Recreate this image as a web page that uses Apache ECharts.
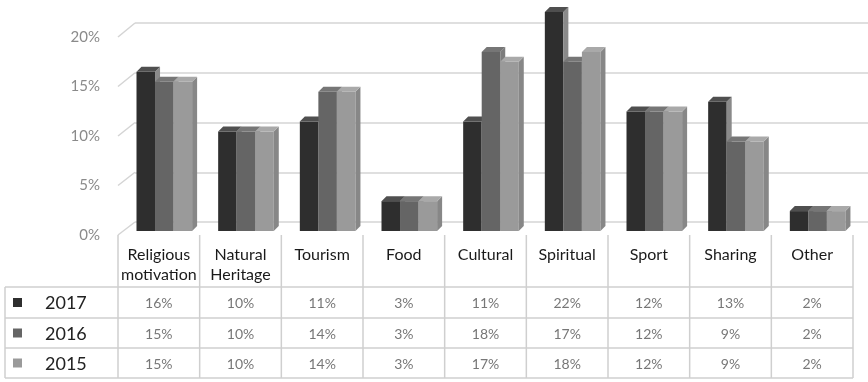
<!DOCTYPE html>
<html>
<head>
<meta charset="utf-8">
<script src="https://cdn.jsdelivr.net/npm/echarts@6/dist/echarts.min.js"></script>
<style>
  html, body { margin: 0; padding: 0; background: #ffffff; }
  #chart { width: 868px; height: 382px; }
</style>
</head>
<body>
<div id="chart"></div>
<script>
// Motivation categories and yearly shares (%)
const categories = ['Religious\nmotivation', 'Natural\nHeritage', 'Tourism', 'Food', 'Cultural', 'Spiritual', 'Sport', 'Sharing', 'Other'];
const years = ['2017', '2016', '2015'];
const values2017 = [16, 10, 11, 3, 11, 22, 12, 13, 2];
const values2016 = [15, 10, 14, 3, 18, 17, 12, 9, 2];
const values2015 = [15, 10, 14, 3, 17, 18, 12, 9, 2];
const yMin = 0, yMax = 20, yStep = 5;

const seriesValues = [values2017, values2016, values2015];
// front / side / top shades of the pseudo-3D columns
const palettes = [
  { front: '#2e2e2e', side: '#8a8a8a', top: '#4f4f4f' },
  { front: '#656565', side: '#7c7c7c', top: '#767676' },
  { front: '#9a9a9a', side: '#878787', top: '#a9a9a9' }
];
const FONT = 'Lato, "Open Sans", sans-serif';
const GRID_LINE = '#d4d4d4';

const chart = echarts.init(document.getElementById('chart'), null, { renderer: 'canvas' });

function columnRenderer(k, pal) {
  return function (params, api) {
    const ci = api.value(0);
    const v = api.value(1);
    const base = api.coord([ci, 0]);
    const top = api.coord([ci, v]);
    const catW = api.size([1, 0])[0];
    const bw = catW * 0.227;
    const shift = catW * 0.067;
    const dx = 5, dy = 5;
    const x0 = base[0] - 1.5 * bw + k * bw + shift;
    const x1 = x0 + bw;
    const yb = base[1], yt = top[1];
    return {
      type: 'group',
      children: [
        { type: 'rect', shape: { x: x0, y: yt, width: bw, height: yb - yt }, style: { fill: pal.front } },
        { type: 'polygon', shape: { points: [[x1, yb], [x1, yt], [x1 + dx, yt - dy], [x1 + dx, yb - dy]] }, style: { fill: pal.side } },
        { type: 'polygon', shape: { points: [[x0, yt], [x1, yt], [x1 + dx, yt - dy], [x0 + dx, yt - dy]] }, style: { fill: pal.top } }
      ]
    };
  };
}

const option = {
  backgroundColor: '#ffffff',
  animation: false,
  grid: [
    // column plane
    { left: 118, right: 15, top: 32, bottom: 151 },
    // back wall, offset up and to the right
    { left: 135, right: -2, top: 23, bottom: 160 },
    // front edge plane, carries the tick labels
    { left: 118, right: 15, top: 37, bottom: 147 }
  ],
  xAxis: [
    { type: 'category', gridIndex: 0, data: categories, show: false },
    { type: 'category', gridIndex: 1, data: categories, show: false },
    { type: 'category', gridIndex: 2, data: categories, show: false }
  ],
  yAxis: [
    {
      type: 'value', gridIndex: 0, min: yMin, max: yMax, interval: yStep, show: false
    },
    {
      type: 'value', gridIndex: 1, min: yMin, max: yMax, interval: yStep,
      axisLine: { show: false }, axisTick: { show: false }, axisLabel: { show: false },
      splitLine: { show: true, lineStyle: { color: GRID_LINE, width: 1.5 } }
    },
    {
      type: 'value', gridIndex: 2, min: yMin, max: yMax, interval: yStep,
      axisLine: { show: false }, axisTick: { show: false }, splitLine: { show: false },
      axisLabel: { formatter: '{value}%', color: '#8a8a8a', fontSize: 15, fontFamily: FONT, margin: 18 }
    }
  ],
  series: seriesValues.map((vals, k) => ({
    type: 'custom',
    name: years[k],
    xAxisIndex: 0,
    yAxisIndex: 0,
    clip: false,
    renderItem: columnRenderer(k, palettes[k]),
    encode: { x: 0, y: 1 },
    data: vals.map((v, i) => [i, v]),
    z: 3
  }))
};
chart.setOption(option);

// Perspective edges and the data table under the plot
function buildOverlay() {
  const g = [];
  const c0 = chart.convertToPixel({ xAxisIndex: 0 }, 0);
  const c1 = chart.convertToPixel({ xAxisIndex: 0 }, 1);
  const catW = c1 - c0;
  const left = c0 - catW / 2;
  const right = left + catW * categories.length;

  // diagonal edges of the side wall at each tick
  for (let v = yMin; v <= yMax; v += yStep) {
    const yf = chart.convertToPixel({ yAxisIndex: 2 }, v);
    const yb = chart.convertToPixel({ yAxisIndex: 1 }, v);
    g.push({ type: 'line', shape: { x1: left, y1: yf, x2: left + 17, y2: yb }, style: { stroke: GRID_LINE, lineWidth: 1.5 }, z: 1 });
  }

  const tableTop = 235;
  const rowLines = [287, 318, 348, 378];
  const tableLeft = 5;
  const lineStyle = { stroke: '#cfcfcf', lineWidth: 1.5 };

  // horizontal rules
  rowLines.forEach(y => {
    g.push({ type: 'line', shape: { x1: tableLeft, y1: y, x2: right, y2: y }, style: lineStyle, z: 5 });
  });
  // vertical rules
  g.push({ type: 'line', shape: { x1: tableLeft, y1: rowLines[0], x2: tableLeft, y2: rowLines[3] }, style: lineStyle, z: 5 });
  for (let i = 0; i <= categories.length; i++) {
    const x = left + i * catW;
    g.push({ type: 'line', shape: { x1: x, y1: tableTop, x2: x, y2: rowLines[3] }, style: lineStyle, z: 5 });
  }

  // header row: category names
  categories.forEach((name, i) => {
    const cx = left + (i + 0.5) * catW;
    g.push({
      type: 'text', x: cx, y: 245, z: 6,
      style: { text: name, fill: '#1a1a1a', font: '16px ' + FONT, align: 'center', verticalAlign: 'top', lineHeight: 20 }
    });
  });

  // body rows: legend key, year, values
  years.forEach((yr, k) => {
    const cy = (rowLines[k] + rowLines[k + 1]) / 2;
    g.push({ type: 'rect', shape: { x: 13, y: cy - 4.5, width: 9, height: 9 }, style: { fill: palettes[k].front }, z: 6 });
    g.push({
      type: 'text', x: 45, y: cy + 1, z: 6,
      style: { text: yr, fill: '#222222', font: '18px ' + FONT, align: 'left', verticalAlign: 'middle' }
    });
    seriesValues[k].forEach((v, i) => {
      const cx = left + (i + 0.5) * catW;
      g.push({
        type: 'text', x: cx, y: cy + 1, z: 6,
        style: { text: v + '%', fill: '#777777', font: '14px ' + FONT, align: 'center', verticalAlign: 'middle' }
      });
    });
  });

  chart.setOption({ graphic: { elements: g } });
}
buildOverlay();
</script>
</body>
</html>
